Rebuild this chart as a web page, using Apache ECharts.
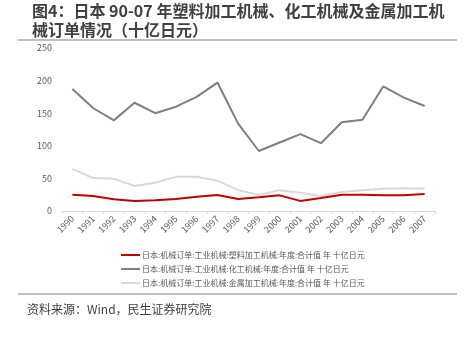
<!DOCTYPE html>
<html><head><meta charset="utf-8">
<script src="https://cdn.jsdelivr.net/npm/echarts@6/dist/echarts.min.js"></script>
<style>html,body{margin:0;padding:0;background:#fff}#c{width:467px;height:340px}</style>
</head><body><div id="c"></div>
<script>
const categories = ['1990','1991','1992','1993','1994','1995','1996','1997','1998','1999','2000','2001','2002','2003','2004','2005','2006','2007'];
const plasticValues = [25,23,18,15.5,16.5,18.5,22,24.5,18.5,21,24,15.5,20,25,25,24,24,26];
const chemicalValues = [187,158,139,166,150,160,175,197,134,92,105,118,104,136,140,191,174,161];
const metalValues = [64.5,50.5,49.5,38.5,43.5,52.5,52.5,46.5,32,24.5,32,28,23,29,32,34,35,34];
const seriesNames = ['日本:机械订单:工业机械:塑料加工机械:年度:合计值 年 十亿日元','日本:机械订单:工业机械:化工机械:年度:合计值 年 十亿日元','日本:机械订单:工业机械:金属加工机械:年度:合计值 年 十亿日元'];
const yTicks = {min:0,max:250,interval:50};
const titleText = '图4：日本 90-07 年塑料加工机械、化工机械及金属加工机\n械订单情况（十亿日元）';
const sourceText = '资料来源：Wind，民生证券研究院';

const chart = echarts.init(document.getElementById('c'), null, {renderer:'canvas'});
const font = '"Microsoft YaHei","Noto Sans CJK SC",sans-serif';
chart.setOption({
  animation:false,
  backgroundColor:'#fff',
  title:{text:titleText,left:27,top:-4,textStyle:{fontSize:16,fontWeight:'bold',color:'#404040',fontFamily:font,lineHeight:19}},
  graphic:[
    {type:'line',shape:{x1:18,y1:40,x2:457,y2:40},style:{stroke:'#808080',lineWidth:1.2}},
    {type:'line',shape:{x1:18,y1:294,x2:457,y2:294},style:{stroke:'#808080',lineWidth:1.2}},
    {type:'text',left:27,top:303,style:{text:sourceText,fontSize:12,fill:'#404040',fontFamily:font}}
  ],
  grid:{left:62,right:32,top:48,bottom:129,containLabel:false},
  legend:{orient:'vertical',left:116,top:246,itemWidth:19,itemHeight:2,itemGap:6,
    icon:'rect',textStyle:{fontSize:8,color:'#595959',fontFamily:font,padding:[0,0,0,-3]},
    data:seriesNames},
  xAxis:{type:'category',data:categories,boundaryGap:true,
    axisLine:{lineStyle:{color:'#d9d9d9'}},
    axisTick:{show:true,length:3,lineStyle:{color:'#d9d9d9'}},
    axisLabel:{rotate:45,fontSize:9,color:'#595959',margin:6,fontFamily:font,interval:0}},
  yAxis:{type:'value',min:yTicks.min,max:yTicks.max,interval:yTicks.interval,
    axisLine:{show:false},axisTick:{show:false},splitLine:{show:false},
    axisLabel:{fontSize:9,color:'#595959',margin:10,fontFamily:font}},
  series:[
    {name:seriesNames[0],type:'line',data:plasticValues,symbol:'none',lineStyle:{color:'#c00000',width:2},itemStyle:{color:'#c00000'},z:4},
    {name:seriesNames[1],type:'line',data:chemicalValues,symbol:'none',lineStyle:{color:'#7f7f7f',width:2},itemStyle:{color:'#7f7f7f'},z:3},
    {name:seriesNames[2],type:'line',data:metalValues,symbol:'none',lineStyle:{color:'#d9d9d9',width:2},itemStyle:{color:'#d9d9d9'},z:2}
  ]
});
</script></body></html>
